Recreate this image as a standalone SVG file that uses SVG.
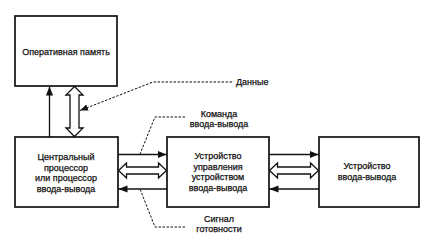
<svg xmlns="http://www.w3.org/2000/svg" width="429" height="237" viewBox="0 0 429 237">
<defs>
<style>
.box{fill:#fff;stroke:#111;stroke-width:1.7}
.t{font-family:"Liberation Sans",Arial,sans-serif;font-size:9px;fill:#111;stroke:#111;stroke-width:0.25;text-anchor:middle}
.tl{font-family:"Liberation Sans",Arial,sans-serif;font-size:9px;fill:#111;stroke:#111;stroke-width:0.25}
.line{stroke:#111;stroke-width:1.3;fill:none}
.hollow{fill:#fff;stroke:#111;stroke-width:1.3;stroke-linejoin:miter}
.dash{stroke:#111;stroke-width:1;fill:none;stroke-dasharray:2.5 1.5}
</style>
<marker id="ah" viewBox="0 0 10 10" refX="10" refY="5" markerWidth="9" markerHeight="9" markerUnits="userSpaceOnUse" orient="auto">
<path d="M0,1 L10,5 L0,9 z" fill="#111"/>
</marker>
<marker id="dh" viewBox="0 0 10 10" refX="10" refY="5" markerWidth="8" markerHeight="8" markerUnits="userSpaceOnUse" orient="auto">
<path d="M0,1 L10,5 L0,9 z" fill="#111"/>
</marker>
</defs>
<rect width="429" height="237" fill="#fff"/>
<g id="memory">
<rect class="box" x="15" y="16" width="102" height="70"/>
<text class="t" x="66" y="55">Оперативная память</text>
</g>
<g id="cpu">
<rect class="box" x="15" y="137" width="103" height="70"/>
<text class="t" x="66" y="160">Центральный</text>
<text class="t" x="66" y="170.5">процессор</text>
<text class="t" x="66" y="181">или процессор</text>
<text class="t" x="66" y="191.5">ввода-вывода</text>
</g>
<g id="controller">
<rect class="box" x="167" y="137" width="102" height="70"/>
<text class="t" x="218" y="159">Устройство</text>
<text class="t" x="218" y="169.5">управления</text>
<text class="t" x="218" y="180">устройством</text>
<text class="t" x="218" y="190.5">ввода-вывода</text>
</g>
<g id="io-device">
<rect class="box" x="319" y="137" width="100" height="70"/>
<text class="t" x="367" y="169">Устройство</text>
<text class="t" x="367" y="179.5">ввода-вывода</text>
</g>
<g id="connectors">
<line class="line" x1="49.5" y1="137" x2="49.5" y2="86.5" marker-end="url(#ah)"/>
<polygon class="hollow" points="74.5,86.5 83,95 79,95 79,128 83,128 74.5,136.5 66,128 70,128 70,95 66,95"/>
<line class="line" x1="118" y1="154.5" x2="166.5" y2="154.5" marker-end="url(#ah)"/>
<polygon class="hollow" points="118.5,170.5 126.5,163 126.5,167 158.5,167 158.5,163 166.5,170.5 158.5,178 158.5,174 126.5,174 126.5,178"/>
<line class="line" x1="167" y1="189" x2="118.5" y2="189" marker-end="url(#ah)"/>
<line class="line" x1="269" y1="154.5" x2="318.5" y2="154.5" marker-end="url(#ah)"/>
<polygon class="hollow" points="269.5,170.5 277.5,163 277.5,167 310.5,167 310.5,163 318.5,170.5 310.5,178 310.5,174 277.5,174 277.5,178"/>
<line class="line" x1="319" y1="189" x2="269.5" y2="189" marker-end="url(#ah)"/>
<polyline class="dash" points="232,82 153,82 80,110.5" marker-end="url(#dh)"/>
<polyline class="dash" points="185,117 155,117 140,154"/>
<polyline class="dash" points="185,227 155,227 140,189"/>
</g>
<g id="labels">
<text class="tl" x="236" y="85">Данные</text>
<text class="t" x="219" y="117">Команда</text>
<text class="t" x="219" y="127">ввода-вывода</text>
<text class="t" x="219" y="222">Сигнал</text>
<text class="t" x="219" y="232">готовности</text>
</g>
</svg>
